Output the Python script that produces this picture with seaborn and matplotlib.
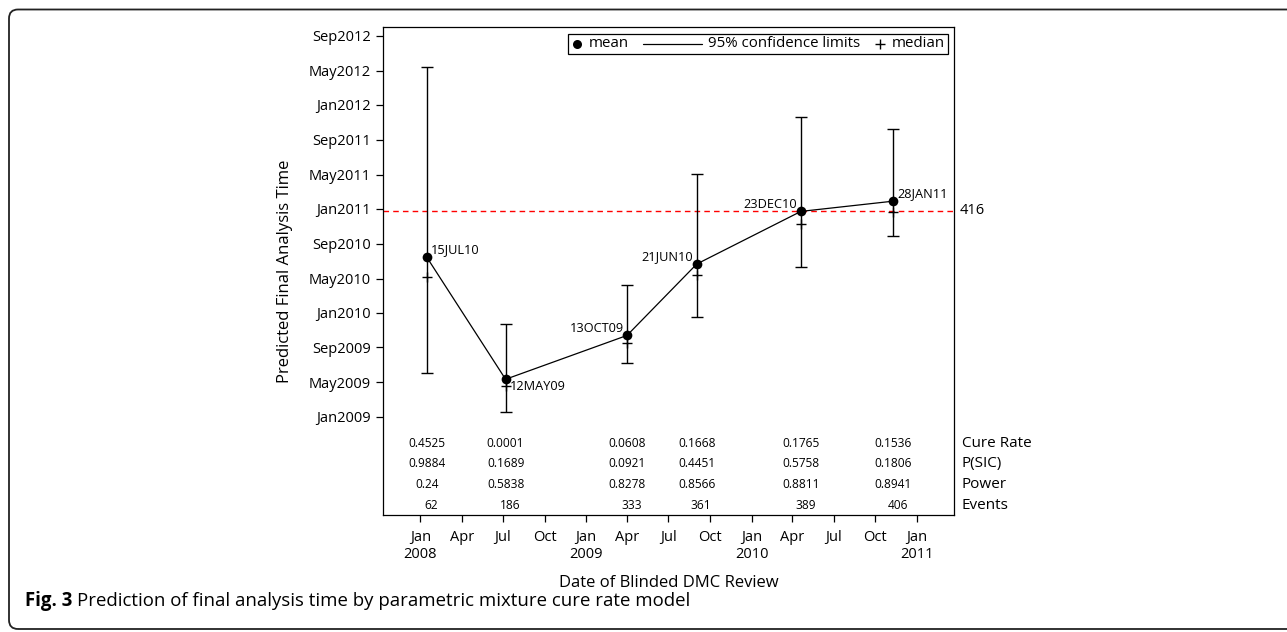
"""
Predicted final analysis time by blinded DMC review (parametric mixture cure rate model)
"""
import numpy as np
import pandas as pd
import matplotlib
matplotlib.use("Agg")
import matplotlib.pyplot as plt
import matplotlib.dates as mdates
import seaborn as sns
from matplotlib.lines import Line2D
from matplotlib.patches import FancyBboxPatch
from matplotlib.offsetbox import AnchoredOffsetbox, DrawingArea, HPacker, TextArea
from matplotlib.ticker import FuncFormatter
from matplotlib.transforms import IdentityTransform

sns.set_style("ticks", {"axes.edgecolor": "black", "text.color": "black",
                        "xtick.color": "black", "ytick.color": "black",
                        "axes.labelcolor": "black"})
plt.rcParams['font.family'] = ['Open Sans', 'DejaVu Sans']

# Data
review_dates = ['2008-01-15', '2008-07-07', '2009-04-01', '2009-09-02', '2010-04-20', '2010-11-10']
mean_dates = ['2010-07-15', '2009-05-12', '2009-10-13', '2010-06-21', '2010-12-23', '2011-01-28']
median_dates = ['2010-05-05', '2009-04-19', '2009-09-17', '2010-05-13', '2010-11-08', '2010-12-20']
lower_dates = ['2009-06-04', '2009-01-18', '2009-07-09', '2009-12-18', '2010-06-11', '2010-09-27']
upper_dates = ['2012-05-14', '2009-11-24', '2010-04-08', '2011-05-05', '2011-11-19', '2011-10-07']

cure_rate = [0.4525, 0.0001, 0.0608, 0.1668, 0.1765, 0.1536]
p_sic = [0.9884, 0.1689, 0.0921, 0.4451, 0.5758, 0.1806]
power = [0.24, 0.5838, 0.8278, 0.8566, 0.8811, 0.8941]
events = [62, 186, 333, 361, 389, 406]

target_date = '2010-12-25'
target_events = 416

y_tick_dates = ['2009-01-01', '2009-05-01', '2009-09-01', '2010-01-01', '2010-05-01',
                '2010-09-01', '2011-01-01', '2011-05-01', '2011-09-01', '2012-01-01',
                '2012-05-01', '2012-09-01']


def dnum(d):
    return mdates.date2num(np.array(d, dtype='datetime64[D]'))


df = pd.DataFrame({
    'review': dnum(review_dates),
    'mean': dnum(mean_dates),
    'median': dnum(median_dates),
    'lower': dnum(lower_dates),
    'upper': dnum(upper_dates),
})
df['label'] = [pd.Timestamp(d).strftime('%d%b%y').upper() for d in mean_dates]

W, H = 1287, 632
fig = plt.figure(figsize=(W / 100, H / 100), dpi=100)
ax = fig.add_axes([383.3 / W, 1 - 515 / H, (954 - 383.3) / W, (515 - 27.3) / H])

# CI bars with caps
ax.errorbar(df['review'], df['mean'],
            yerr=[df['mean'] - df['lower'], df['upper'] - df['mean']],
            fmt='none', ecolor='black', elinewidth=1.0, capsize=4.5, capthick=1.0, zorder=2)
# medians
sns.scatterplot(data=df, x='review', y='median', marker='+', s=50, color='black',
                linewidth=1.0, ax=ax, zorder=3, legend=False)
# means joined by line
sns.lineplot(data=df, x='review', y='mean', color='black', lw=0.9, marker='o',
             markersize=7, markeredgewidth=0, estimator=None, sort=False, ax=ax, zorder=4)

# target line
ax.axhline(dnum(target_date), color='#ff0000', ls=(0, (4, 3)), lw=1, zorder=1)
ax.annotate(str(target_events), xy=(1, dnum(target_date)),
            xycoords=('axes fraction', 'data'), xytext=(4, 0), textcoords='offset points',
            ha='left', va='center', fontsize=10.5, annotation_clip=False)

# point labels
label_side = ['right', 'right_below', 'left', 'left', 'left', 'right']
for (_, r), side in zip(df.iterrows(), label_side):
    if side == 'right':
        off, ha, va = (3, 0.5), 'left', 'bottom'
    elif side == 'right_below':
        off, ha, va = (3, -0.5), 'left', 'top'
    else:
        off, ha, va = (-2.5, 0.5), 'right', 'bottom'
    ax.annotate(r['label'], xy=(r['review'], r['mean']), xytext=off,
                textcoords='offset points', ha=ha, va=va, fontsize=9.2)

# table under the plot
rows = [('Cure Rate', [f"{v:g}" for v in cure_rate], 0.147, 0),
        ('P(SIC)', [f"{v:g}" for v in p_sic], 0.105, 0),
        ('Power', [f"{v:g}" for v in power], 0.063, 0),
        ('Events', [str(v) for v in events], 0.0185, 3.2)]
xtrans = ax.get_xaxis_transform()
for name, vals, yfrac, dx in rows:
    for x, v in zip(df['review'], vals):
        ax.annotate(v, xy=(x, yfrac), xycoords=xtrans, xytext=(dx, 0),
                    textcoords='offset points', ha='center', va='center', fontsize=8.6)
    ax.annotate(name, xy=(1, yfrac), xycoords='axes fraction', xytext=(5.5, 0),
                textcoords='offset points', ha='left', va='center', fontsize=11,
                annotation_clip=False)

# axes limits and ticks
ax.set_xlim(dnum('2007-10-11'), dnum('2011-03-24'))
ax.set_ylim(dnum('2008-01-21'), dnum('2012-09-30'))
ax.set_yticks(dnum(y_tick_dates))
ax.yaxis.set_major_formatter(mdates.DateFormatter('%b%Y'))
ax.xaxis.set_major_locator(mdates.MonthLocator(bymonth=[1, 4, 7, 10]))


def xfmt(v, pos):
    d = mdates.num2date(v)
    return d.strftime('%b\n%Y') if d.month == 1 else d.strftime('%b')


ax.xaxis.set_major_formatter(FuncFormatter(xfmt))
ax.tick_params(direction='out', length=5, width=0.9, labelsize=10.5, pad=4,
               top=False, right=False)
ax.tick_params(axis='x', pad=6)
for s in ax.spines.values():
    s.set_linewidth(0.9)

ax.set_xlabel('Date of Blinded DMC Review', fontsize=12, labelpad=9)
ax.set_ylabel('Predicted Final Analysis Time', fontsize=12, labelpad=11)

# legend
def entry(da, text):
    return HPacker(children=[da, TextArea(text, textprops=dict(fontsize=10.8))],
                   sep=4, align='center')


da_mean = DrawingArea(9, 8)
da_mean.add_artist(Line2D([4.5], [4], marker='o', ms=6.5, color='black', mew=0))
da_ci = DrawingArea(43, 8)
da_ci.add_artist(Line2D([0, 43], [4, 4], color='black', lw=0.9))
da_med = DrawingArea(9, 8)
da_med.add_artist(Line2D([4.5], [4], marker='+', ms=7.5, mew=1.0, color='black'))
pack = HPacker(children=[entry(da_mean, 'mean'), entry(da_ci, '95% confidence limits'),
                         entry(da_med, 'median')], sep=10, align='center')
leg = AnchoredOffsetbox(loc='upper right', child=pack, pad=0.2, borderpad=0.45,
                        frameon=True)
leg.patch.set_boxstyle('square,pad=0')
leg.patch.set_edgecolor('black')
leg.patch.set_linewidth(0.9)
ax.add_artist(leg)

# outer frame and caption
fig.add_artist(FancyBboxPatch((9, 3), 1300, 619.5, boxstyle='round,pad=0,rounding_size=9',
                              transform=IdentityTransform(), fill=False, ec='#222222', lw=1.3))
t1 = fig.text(25 / W, 1 - 601 / H, 'Fig. 3', fontweight='bold', fontsize=13.4, va='center')
fig.canvas.draw()
bb = t1.get_window_extent(fig.canvas.get_renderer())
fig.text((bb.x1 + 5) / W, 1 - 601 / H,
         'Prediction of final analysis time by parametric mixture cure rate model',
         fontsize=13.4, va='center')

fig.savefig('out.png', dpi=100, facecolor='white')
